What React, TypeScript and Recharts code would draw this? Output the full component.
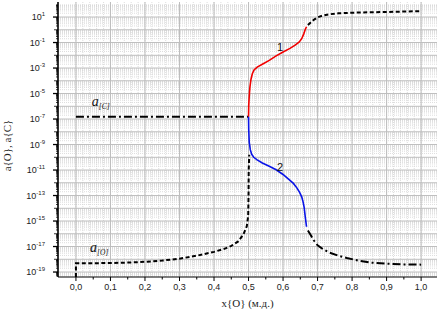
import React from 'react';
import {
  LineChart,
  Line,
  XAxis,
  YAxis,
  CartesianGrid,
  ReferenceDot,
} from 'recharts';

// y values are log10 of the activity (axis is logarithmic, 10^-19 .. 10^1)
type Pt = [number, number];

const aCLeft: Pt[] = [[0, -6.82], [0.5, -6.82]];

const curve1Red: Pt[] = [
  [0.5, -6.82], [0.5005, -6.0], [0.502, -5.2], [0.504, -4.5], [0.507, -3.9],
  [0.511, -3.45], [0.516, -3.15], [0.525, -2.93], [0.54, -2.7], [0.56, -2.4],
  [0.58, -2.05], [0.6, -1.74], [0.62, -1.46], [0.635, -1.2], [0.647, -0.95],
  [0.654, -0.7], [0.66, -0.32], [0.664, 0.0], [0.668, 0.24],
];

const aCRight: Pt[] = [
  [0.672, 0.38], [0.68, 0.58], [0.69, 0.8], [0.7, 0.98], [0.715, 1.12],
  [0.735, 1.22], [0.76, 1.29], [0.8, 1.34], [0.85, 1.37], [0.9, 1.4],
  [0.95, 1.43], [1.0, 1.46],
];

const aOLeft: Pt[] = [
  [0, -19.39], [0, -18.32], [0.05, -18.31], [0.1, -18.29], [0.15, -18.26],
  [0.2, -18.2], [0.25, -18.1], [0.3, -17.95], [0.35, -17.72], [0.4, -17.42],
  [0.43, -17.18], [0.45, -16.95], [0.47, -16.6], [0.485, -16.05], [0.495, -15.4],
  [0.499, -14.6], [0.5, -13.0], [0.5005, -11.0], [0.502, -9.8],
];

const curve2Blue: Pt[] = [
  [0.5, -6.82], [0.5005, -7.8], [0.502, -8.8], [0.505, -9.4], [0.509, -9.75],
  [0.515, -10.0], [0.525, -10.2], [0.54, -10.45], [0.56, -10.7], [0.58, -10.98],
  [0.6, -11.35], [0.615, -11.7], [0.63, -12.05], [0.64, -12.4], [0.648, -12.75],
  [0.654, -13.1], [0.658, -13.5], [0.661, -13.9], [0.664, -14.6], [0.668, -15.45],
];

const aORight: Pt[] = [
  [0.672, -15.75], [0.68, -16.1], [0.69, -16.55], [0.7, -16.9], [0.715, -17.2],
  [0.735, -17.48], [0.76, -17.72], [0.785, -17.9], [0.82, -18.12], [0.85, -18.25],
  [0.9, -18.35], [0.95, -18.4], [1.0, -18.42],
];

const xMajor = [0, 0.1, 0.2, 0.3, 0.4, 0.5, 0.6, 0.7, 0.8, 0.9, 1.0];
const yLabeled = [-19, -17, -15, -13, -11, -9, -7, -5, -3, -1, 1];

const X_DOMAIN: [number, number] = [-0.052, 1.046];
const Y_DOMAIN: [number, number] = [-19.39, 2.18];

const toPts = (arr: Pt[]) => arr.map(([x, y]) => ({ x, y }));

// tick / grid positions
const xTicks = Array.from({ length: 21 }, (_, i) => +(i * 0.05).toFixed(2));
const xMinorGrid = Array.from({ length: 51 }, (_, i) => +(i * 0.02).toFixed(2));
const yDecades = Array.from({ length: 22 }, (_, i) => -20 + i).filter(
  (v) => v >= Y_DOMAIN[0] && v <= Y_DOMAIN[1]
);
const yMinor: number[] = [];
for (let n = -20; n <= 2; n++) {
  for (let k = 2; k <= 9; k++) {
    const v = n + Math.log10(k);
    if (v >= Y_DOMAIN[0] && v <= Y_DOMAIN[1]) yMinor.push(v);
  }
}
const yTicks = [...yDecades, ...yMinor].sort((a, b) => a - b);

const SANS = '"Liberation Sans", Arial, sans-serif';
const SERIF = '"Liberation Serif", "Times New Roman", serif';

const XTick = ({ x, y, payload }: any) => {
  const v = payload.value as number;
  const major = Math.abs(v * 10 - Math.round(v * 10)) < 1e-6;
  return (
    <g>
      <line x1={x} x2={x} y1={y} y2={y + (major ? 4 : 2.5)} stroke="#000" strokeWidth={1} />
      {major && (
        <text x={x} y={y + 13} textAnchor="middle" fontSize={9} fontFamily={SANS} fill="#222">
          {v.toFixed(1).replace('.', ',')}
        </text>
      )}
    </g>
  );
};

const YTick = ({ x, y, payload }: any) => {
  const v = payload.value as number;
  const isInt = Math.abs(v - Math.round(v)) < 1e-6;
  const labeled = isInt && yLabeled.includes(Math.round(v));
  const len = labeled ? 5 : isInt ? 4 : 2;
  return (
    <g>
      <line x1={x - len} x2={x} y1={y} y2={y} stroke="#000" strokeWidth={labeled ? 1.3 : 0.8} />
      {labeled && (
        <text x={x - 13} y={y + 3} textAnchor="end" fontSize={9} fontFamily={SANS} fill="#222">
          10
          <tspan dy={-4} fontSize={6}>{Math.round(v)}</tspan>
        </text>
      )}
    </g>
  );
};

const SubLabel = ({ viewBox, sub }: any) => (
  <text x={viewBox.x} y={viewBox.y} fontFamily={SERIF} fontStyle="italic" fill="#111">
    <tspan fontSize={14}>a</tspan>
    <tspan fontSize={7.5} dy={3}>{sub}</tspan>
  </text>
);

const NumLabel = ({ viewBox, text }: any) => (
  <text x={viewBox.x} y={viewBox.y + 4} textAnchor="middle" fontSize={11} fontFamily={SANS} fill="#111">
    {text}
  </text>
);

export default function App() {
  return (
    <div style={{ width: 440, height: 316, background: '#fff' }}>
      <style>{`body{margin:0}`}</style>
      <LineChart width={440} height={316} margin={{ top: 2, right: 3, bottom: 0, left: 0 }}>
        <CartesianGrid
          verticalValues={xMinorGrid}
          horizontalValues={yMinor}
          stroke="#d4d4d4"
          strokeDasharray="1 1"
          strokeWidth={0.8}
        />
        <CartesianGrid
          verticalValues={xMajor}
          horizontalValues={yDecades}
          stroke="#bdbdbd"
          strokeWidth={1}
        />
        <XAxis
          type="number"
          dataKey="x"
          domain={X_DOMAIN}
          allowDataOverflow
          ticks={xTicks}
          interval={0}
          tick={<XTick />}
          tickLine={false}
          tickSize={0}
          tickMargin={0}
          height={39}
          axisLine={{ stroke: '#000', strokeWidth: 1.2 }}
          label={(p: any) => (
            <text
              x={p.viewBox.x + p.viewBox.width / 2}
              y={p.viewBox.y + 30}
              textAnchor="middle"
              fontSize={11}
              fontFamily={SERIF}
              fill="#222"
            >
              x{'{O}'} (м.д.)
            </text>
          )}
        />
        <YAxis
          type="number"
          domain={Y_DOMAIN}
          allowDataOverflow
          ticks={yTicks}
          interval={0}
          tick={<YTick />}
          tickLine={false}
          tickSize={0}
          tickMargin={0}
          width={58}
          axisLine={{ stroke: '#000', strokeWidth: 1.6 }}
          label={(p: any) => {
            const cx = p.viewBox.x + 11;
            const cy = p.viewBox.y + p.viewBox.height / 2 + 6;
            return (
              <text
                x={cx}
                y={cy}
                transform={`rotate(-90, ${cx}, ${cy})`}
                textAnchor="middle"
                fontSize={11}
                fontFamily={SERIF}
                fill="#222"
              >
                a{'{O}'}, a{'{C}'}
              </text>
            );
          }}
        />

        <Line data={toPts(aCLeft)} dataKey="y" type="linear" stroke="#000" strokeWidth={2}
          strokeDasharray="8 3 2 3" dot={false} isAnimationActive={false} />
        <Line data={toPts(aOLeft)} dataKey="y" type="linear" stroke="#000" strokeWidth={2}
          strokeDasharray="4 2.5" dot={false} isAnimationActive={false} />
        <Line data={toPts(aCRight)} dataKey="y" type="linear" stroke="#000" strokeWidth={2}
          strokeDasharray="4 2.5" dot={false} isAnimationActive={false} />
        <Line data={toPts(aORight)} dataKey="y" type="linear" stroke="#000" strokeWidth={2}
          strokeDasharray="8 3 2 3" dot={false} isAnimationActive={false} />
        <Line data={toPts(curve1Red)} dataKey="y" type="linear" stroke="#f00000" strokeWidth={1.6}
          dot={false} isAnimationActive={false} />
        <Line data={toPts(curve2Blue)} dataKey="y" type="linear" stroke="#0a14e6" strokeWidth={1.6}
          dot={false} isAnimationActive={false} />

        <ReferenceDot x={0.591} y={-1.33} r={0} fill="none" stroke="none"
          label={(p: any) => <NumLabel {...p} text="1" />} />
        <ReferenceDot x={0.591} y={-10.74} r={0} fill="none" stroke="none"
          label={(p: any) => <NumLabel {...p} text="2" />} />
        <ReferenceDot x={0.046} y={-5.98} r={0} fill="none" stroke="none"
          label={(p: any) => <SubLabel {...p} sub="[C]" />} />
        <ReferenceDot x={0.041} y={-17.41} r={0} fill="none" stroke="none"
          label={(p: any) => <SubLabel {...p} sub="[O]" />} />
      </LineChart>
    </div>
  );
}
